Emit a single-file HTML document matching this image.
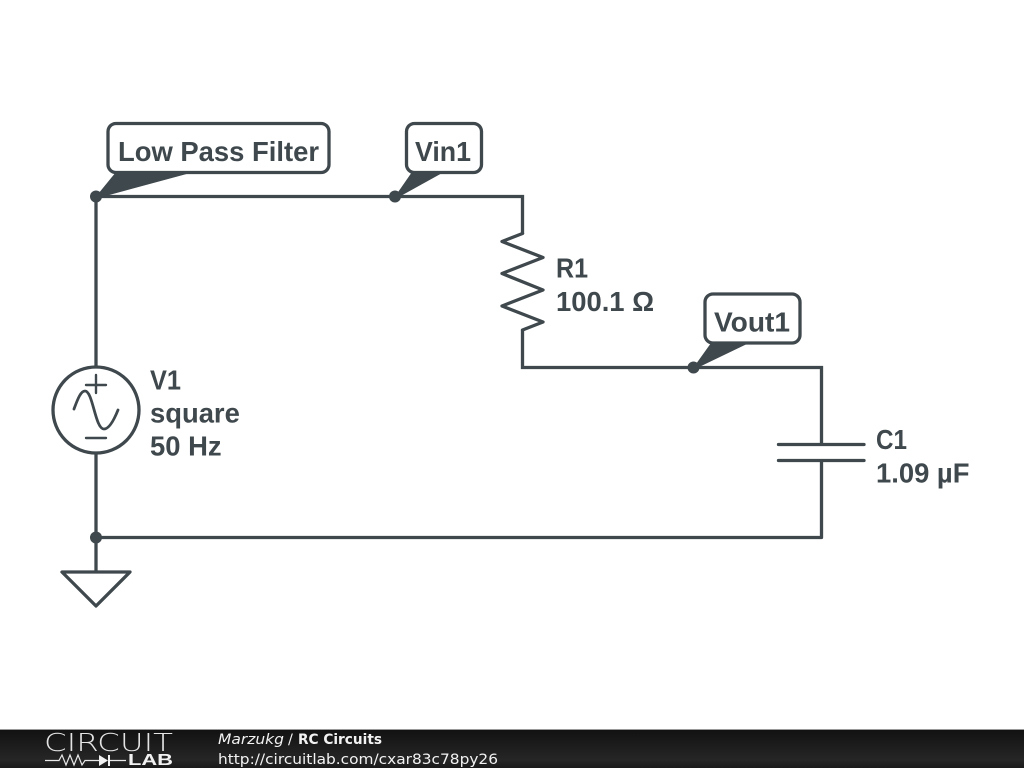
<!DOCTYPE html>
<html><head><meta charset="utf-8"><style>
html,body{margin:0;padding:0;background:#fff;width:1024px;height:768px;overflow:hidden}
svg{display:block}
.l{font:bold 27.400px "Liberation Sans",sans-serif;fill:#3f484d}
</style></head><body>
<svg width="1024" height="768" viewBox="0 0 1024 768" xmlns="http://www.w3.org/2000/svg">
<defs><linearGradient id="g" x1="0" y1="0" x2="0" y2="1"><stop offset="0" stop-color="#111"/><stop offset=".8" stop-color="#262626"/><stop offset="1" stop-color="#1a1a1a"/></linearGradient></defs>
<rect width="1024" height="768" fill="#fff"/>
<g fill="none" stroke="#3f484d" stroke-width="3.300" stroke-linejoin="round" stroke-linecap="round">
<path stroke-linejoin="miter" stroke-linecap="butt" d="M96 366V196.500H522.500V234"/>
<path d="M522.500 233.500L502 241.500L543 257.500L502 273.500L543 290L502 306L543 322L522.500 330"/>
<path stroke-linejoin="miter" stroke-linecap="butt" d="M522.500 330V367.500H821.500V444"/>
<path stroke-linecap="butt" d="M821.500 461V537.500H96M96 453V572"/>
<path d="M778.500 444.500H864M778.500 460.500H864"/>
<circle cx="96" cy="410" r="43"/>
<path stroke-width="2.400" d="M86 385H106M96 375V393M86 438H106"/>
<path stroke-width="2.800" d="M74 409C78 398 81 391 85 391C93 391 95 429 104 429C109 429 114 420 118 410"/>
<path d="M62 572H130L96 606Z"/>
<rect x="108" y="123.500" width="221" height="49" rx="8" fill="#fff"/>
<rect x="406.500" y="123.500" width="75" height="49" rx="8" fill="#fff"/>
<rect x="705" y="294" width="95" height="49" rx="8" fill="#fff"/>
</g>
<g fill="#3f484d">
<path d="M96 196.500L116 172H194L100 197.500Z"/>
<path d="M395 196.500L412 172H444L398 197.500Z"/>
<path d="M693.500 367.500L711 343H749L696 368.500Z"/>
<circle cx="96" cy="196.500" r="6"/>
<circle cx="395" cy="196.500" r="6"/>
<circle cx="693.500" cy="367.500" r="6"/>
<circle cx="96" cy="537.500" r="6"/>
</g>
<text class="l" x="118" y="161" textLength="201" lengthAdjust="spacingAndGlyphs">Low Pass Filter</text>
<text class="l" x="415" y="161" textLength="56" lengthAdjust="spacingAndGlyphs">Vin1</text>
<text class="l" x="714" y="331.500" textLength="76" lengthAdjust="spacingAndGlyphs">Vout1</text>
<text class="l" x="556" y="277.500" textLength="32" lengthAdjust="spacingAndGlyphs">R1</text>
<text class="l" x="556" y="311">100.1 Ω</text>
<text class="l" x="150" y="389.500" textLength="31" lengthAdjust="spacingAndGlyphs">V1</text>
<text class="l" x="150" y="422.500">square</text>
<text class="l" x="150" y="455.500">50 Hz</text>
<text class="l" x="876" y="449" textLength="31" lengthAdjust="spacingAndGlyphs">C1</text>
<text class="l" x="876" y="482.500">1.09 µF</text>
<rect y="729" width="1024" height="39" fill="url(#g)"/>
<rect y="729" width="1024" height="1" fill="#999"/>
<text x="44" y="751" font-family="DejaVu Sans" font-weight="200" font-size="25" fill="#e4e4e4" textLength="129" lengthAdjust="spacingAndGlyphs">CIRCUIT</text>
<text x="128" y="765" font-family="Liberation Sans" font-weight="bold" font-size="16" fill="#f2f2f2" textLength="45" lengthAdjust="spacingAndGlyphs">LAB</text>
<path d="M45 760.500H59L62 755L66 765L70 755L74 765L78 755L82 765L85 760.500H99M110 760.500H126" fill="none" stroke="#e8e8e8" stroke-width="1.200"/>
<path d="M99 755V766L108 760.500Z" fill="#f2f2f2"/>
<rect x="108" y="755" width="2" height="11" fill="#f2f2f2"/>
<text x="218" y="744" font-family="DejaVu Sans" font-size="14.500" font-style="italic" fill="#f2f2f2" textLength="66" lengthAdjust="spacingAndGlyphs">Marzukg</text>
<text x="288" y="744" font-family="DejaVu Sans" font-size="14.500" fill="#f2f2f2">/</text>
<text x="298" y="744" font-family="DejaVu Sans" font-size="14" font-weight="bold" fill="#f2f2f2" textLength="84" lengthAdjust="spacingAndGlyphs">RC Circuits</text>
<text x="218" y="764" font-family="DejaVu Sans" font-size="14.500" fill="#f2f2f2" textLength="280" lengthAdjust="spacingAndGlyphs">http://circuitlab.com/cxar83c78py26</text>
</svg>
</body></html>
